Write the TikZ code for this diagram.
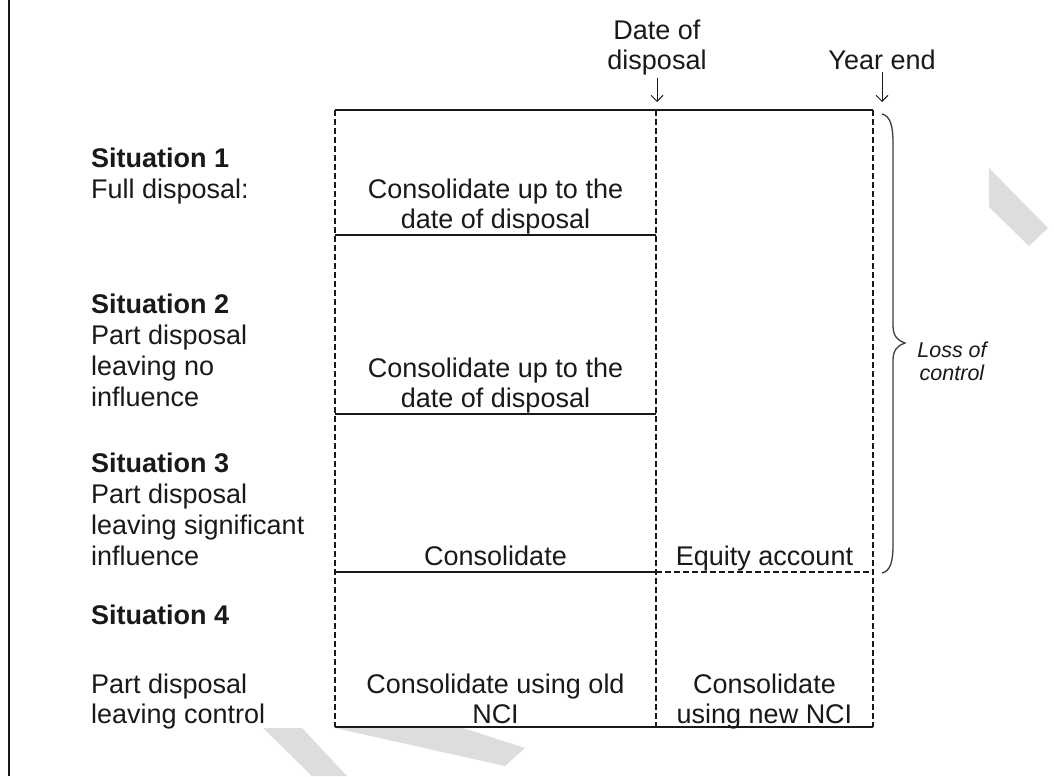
\documentclass[tikz,border=0pt]{standalone}
\usepackage{fontspec}
\setmainfont{Liberation Sans}
\usetikzlibrary{arrows.meta}
\definecolor{ink}{RGB}{25,25,25}
\definecolor{markgrey}{RGB}{221,221,221}
\begin{document}
\begin{tikzpicture}[x=1pt,y=-1pt,
  txt/.style={inner sep=0pt, text=ink},
  sidetxt/.style={txt, align=left, anchor=base west, font=\fontsize{27}{31}\selectfont},
  celltxt/.style={txt, align=center, anchor=base, font=\fontsize{27}{30}\selectfont},
  toptxt/.style={txt, align=center, anchor=base, font=\fontsize{27}{30.5}\selectfont},
  notetxt/.style={txt, align=center, anchor=base, font=\fontsize{21.5}{23}\selectfont\itshape},
  rule/.style={draw=ink, line width=1.4pt},
  dashrule/.style={draw=ink, line width=1.3pt, dash pattern=on 5.5pt off 3.5pt},
  pointer/.style={draw=ink, line width=0.9pt, -{Straight Barb[length=6pt,width=12pt,line width=0.9pt]}},
  bracket/.style={draw=ink!85, line width=1.3pt},
]
\useasboundingbox (0,0) rectangle (1054,776);

% light grey background marks
\fill[markgrey] (989,168) -- (1048,228) -- (1029,246) -- (989,207) -- cycle;
\fill[markgrey] (263,728) -- (302,728) -- (347,776) -- (312,776) -- cycle;
\fill[markgrey] (335,728) -- (463,728) -- (525,748) -- (505,766) -- cycle;

% frame edge on the left
\draw[draw=ink, line width=2pt] (9,0) -- (9,776);

% grid corners
\coordinate (t1) at (335,110); \coordinate (t2) at (656,110); \coordinate (t3) at (873,110);
\coordinate (a1) at (335,235); \coordinate (a2) at (656,235);
\coordinate (b1) at (335,414); \coordinate (b2) at (656,414);
\coordinate (c1) at (335,572); \coordinate (c2) at (656,572); \coordinate (c3) at (873,572);
\coordinate (d1) at (335,727); \coordinate (d2) at (656,727); \coordinate (d3) at (873,727);

% time columns
\draw[dashrule] (t1) -- (d1);
\draw[dashrule] (t2) -- (d2);
\draw[dashrule] (t3) -- (d3);
\draw[dashrule] (c2) -- (c3);

% period boundaries
\draw[rule] (t1) -- (t3);
\draw[rule] (a1) -- (a2);
\draw[rule] (b1) -- (b2);
\draw[rule] (c1) -- (c2);
\draw[rule] (d1) -- (d3);

% column headings with pointers (multi-line nodes sit on their last baseline)
\node[toptxt] (dod) at (657,70) {Date of\\disposal};
\node[toptxt] (ye) at (882,70) {Year end};
\coordinate (dodtip) at (657,102);
\coordinate (yetip) at (882,102);
\draw[pointer] ([yshift=-2pt]dod.south) -- (dodtip);
\draw[pointer] ([yshift=-2pt]ye.south) -- (yetip);

% situations
\node[sidetxt] (s1) at (91,198) {\textbf{Situation 1}\\Full disposal:};
\node[sidetxt] (s2) at (91,406) {\textbf{Situation 2}\\Part disposal\\leaving no\\influence};
\node[sidetxt] (s3) at (91,565) {\textbf{Situation 3}\\Part disposal\\leaving significant\\influence};
\node[sidetxt] (s4) at (91,624) {\textbf{Situation 4}};
\node[sidetxt, font=\fontsize{27}{30}\selectfont] (s4b) at (91,723) {Part disposal\\leaving control};

% treatments
\node[celltxt] (r1) at (495.5,228) {Consolidate up to the\\date of disposal};
\node[celltxt] (r2) at (495.5,407) {Consolidate up to the\\date of disposal};
\node[celltxt] (r3a) at (495.5,565) {Consolidate};
\node[celltxt] (r3b) at (764.5,565) {Equity account};
\node[celltxt] (r4a) at (495.5,723) {Consolidate using old\\NCI};
\node[celltxt] (r4b) at (764.5,723) {Consolidate\\using new NCI};

% brace over situations 1 to 3
\draw[bracket] (882,114) .. controls (891,116) and (893,128) .. (893,143)
  -- (893,326) .. controls (893,336) and (898,341) .. (905,343)
  .. controls (898,345) and (893,350) .. (893,360)
  -- (893,545) .. controls (893,560) and (891,571) .. (882,573);
\node[notetxt] (loss) at (952,380) {Loss of\\control};
\end{tikzpicture}
\end{document}
